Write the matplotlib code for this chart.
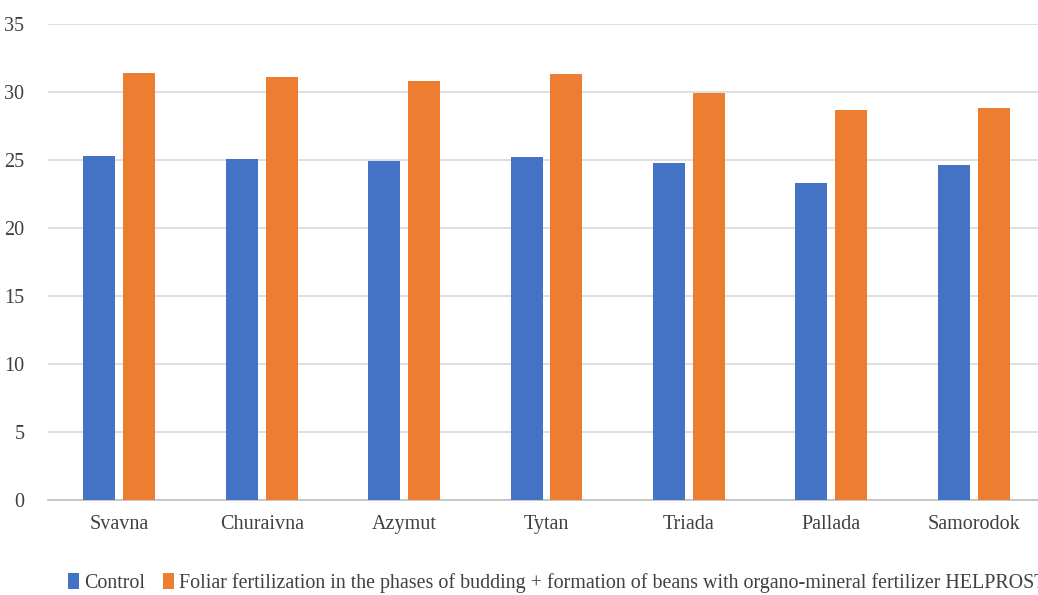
import matplotlib.pyplot as plt
import numpy as np

plt.rcParams['font.family'] = ['Liberation Serif', 'DejaVu Serif']

# Data
varieties = ['Svavna', 'Churaivna', 'Azymut', 'Tytan', 'Triada', 'Pallada', 'Samorodok']
control = [25.3, 25.1, 24.9, 25.2, 24.8, 23.3, 24.6]
foliar = [31.4, 31.1, 30.8, 31.3, 29.9, 28.7, 28.8]
series_names = ['Control',
                'Foliar fertilization in the phases of budding + formation of beans '
                'with organo-mineral fertilizer HELPROST']
yticks = [0, 5, 10, 15, 20, 25, 30, 35]

fig = plt.figure(figsize=(10.38, 5.95), dpi=100)
ax = fig.add_axes([48/1038, 1 - 500/595, 997/1038, 476/595])

x = np.arange(len(varieties))
w = 0.225
ax.bar(x - 0.14, control, w, color='#4472C4', label=series_names[0], zorder=3)
ax.bar(x + 0.14, foliar, w, color='#ED7D31', label=series_names[1], zorder=3)

ax.set_xlim(-0.5, len(varieties) - 0.5)
ax.set_ylim(0, 35)
ax.set_yticks(yticks)
ax.set_xticks(x)
ax.set_xticklabels(varieties)
ax.yaxis.grid(True, color='#d9d9d9', linewidth=1.2, zorder=0)
ax.tick_params(axis='both', length=0, labelsize=14.5, colors='#404040')
ax.tick_params(axis='x', pad=11)
ax.tick_params(axis='y', pad=17)
for s in ['top', 'right', 'left']:
    ax.spines[s].set_visible(False)
ax.spines['bottom'].set_color('#bfbfbf')
ax.spines['bottom'].set_linewidth(1.2)

leg = fig.legend(loc='center left', bbox_to_anchor=(58/1038, 1 - 583/595), ncol=2,
                 frameon=False, fontsize=14.4, handlelength=0.55, handleheight=0.8,
                 handletextpad=0.25, columnspacing=0.9, borderpad=0)
for t in leg.get_texts():
    t.set_color('#404040')

fig.savefig('out.png', dpi=100)
